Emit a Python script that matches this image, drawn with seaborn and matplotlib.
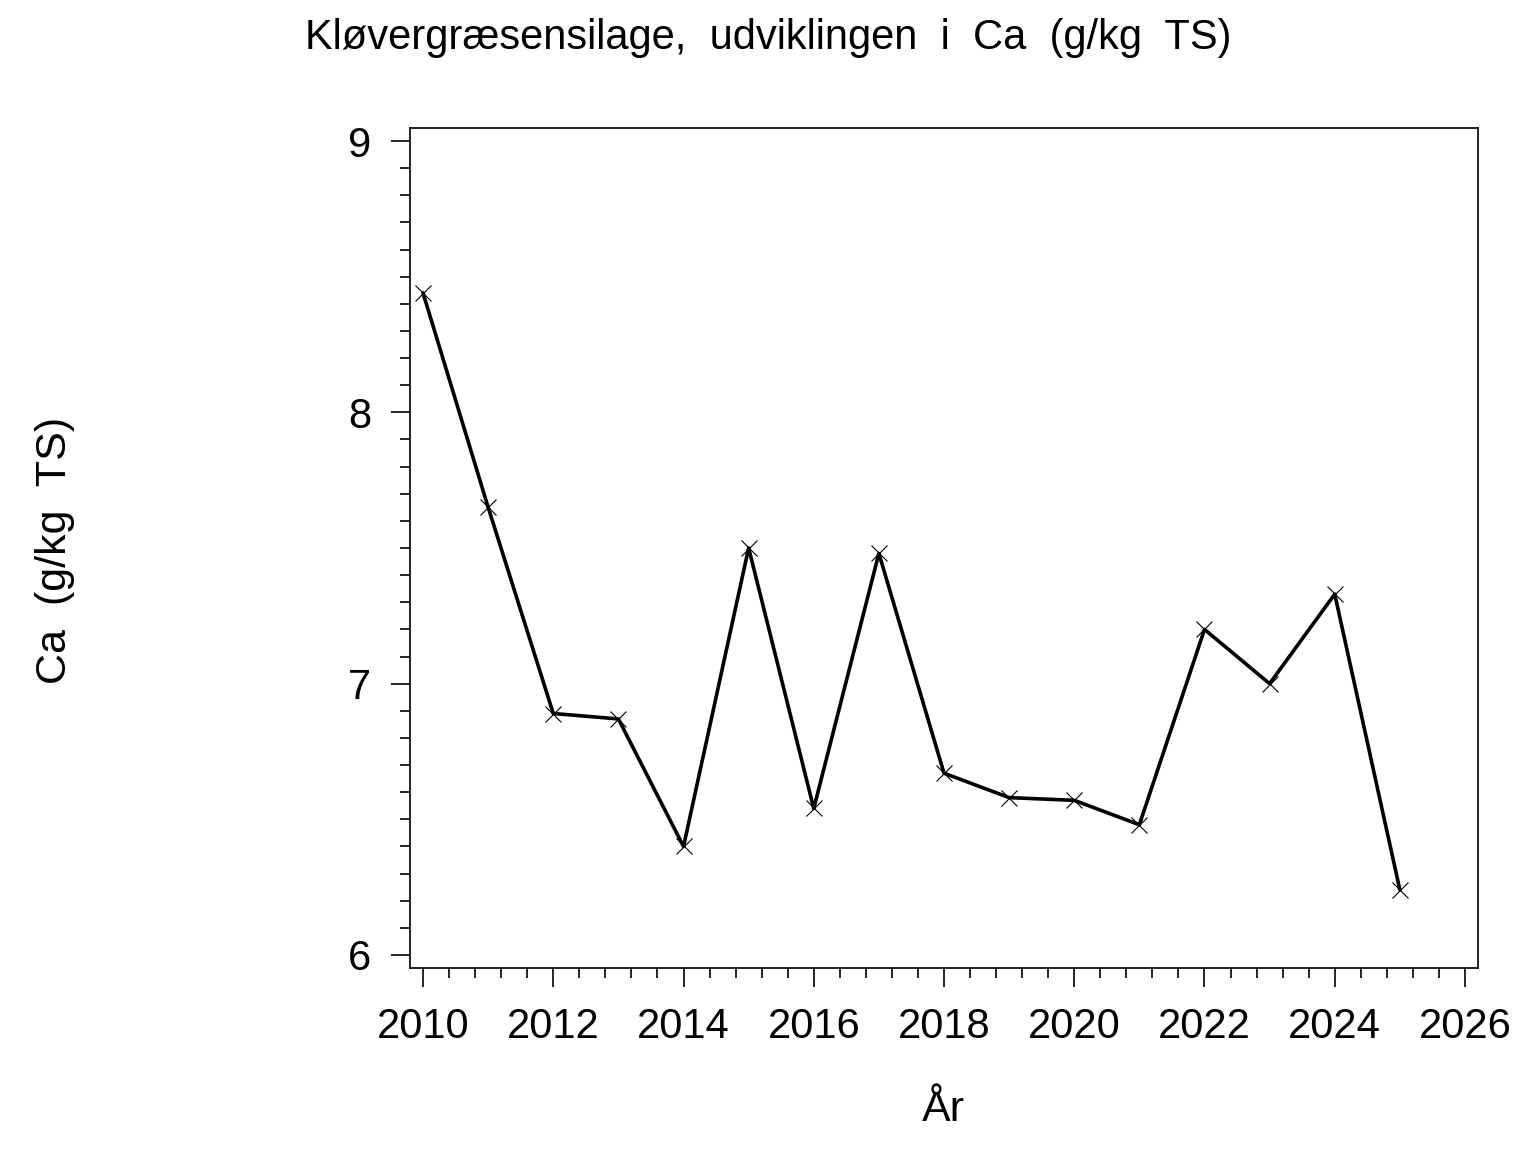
import matplotlib
matplotlib.use("Agg")
import matplotlib.pyplot as plt
from matplotlib.ticker import MultipleLocator
import seaborn as sns
import pandas as pd

# --- data ---
years = [2010, 2011, 2012, 2013, 2014, 2015, 2016, 2017,
         2018, 2019, 2020, 2021, 2022, 2023, 2024, 2025]
ca = [8.44, 7.65, 6.89, 6.87, 6.40, 7.50, 6.54, 7.48,
      6.67, 6.58, 6.57, 6.48, 7.20, 7.00, 7.33, 6.24]

title = "Kløvergræsensilage,  udviklingen  i  Ca  (g/kg  TS)"
xlab = "År"
ylab = "Ca  (g/kg  TS)"

df = pd.DataFrame({"year": years, "ca": ca})

sns.set_style("ticks")
plt.rcParams["font.family"] = ["Liberation Sans", "DejaVu Sans"]
plt.rcParams["text.color"] = "black"
plt.rcParams["axes.labelcolor"] = "black"

fig = plt.figure(figsize=(15.36, 11.52), dpi=100)
ax = fig.add_axes([410 / 1536, 1 - 968 / 1152, 1068 / 1536, 840 / 1152])

sns.lineplot(data=df, x="year", y="ca", ax=ax, color="black", linewidth=2.6,
             marker="x", markersize=12, markeredgewidth=0.8,
             markeredgecolor="black")

# --- axes ---
ax.set_xlim(2009.8, 2026.2)
ax.set_ylim(5.952, 9.048)
ax.xaxis.set_major_locator(MultipleLocator(2))
ax.xaxis.set_minor_locator(MultipleLocator(0.4))
ax.yaxis.set_major_locator(MultipleLocator(1))
ax.yaxis.set_minor_locator(MultipleLocator(0.1))
ax.tick_params(which="major", length=14, width=1.2, labelsize=30, pad=14,
               color="black", labelcolor="black")
ax.tick_params(which="minor", length=7, width=1.2, color="black")

for s in ax.spines.values():
    s.set_color("black")
    s.set_linewidth(1.2)

ax.set_xlabel(xlab, fontsize=31, va="center")
ax.set_ylabel(ylab, fontsize=31, va="center", ha="center")
ax.xaxis.set_label_coords((943 - 410) / 1068, (968 - 1110) / 840)
ax.yaxis.set_label_coords((55 - 410) / 1068, (968 - 550) / 840)

fig.text(0.5, 1 - 38 / 1152, title, ha="center", va="center", fontsize=30,
         color="black")

fig.savefig("out.png", dpi=100, facecolor="white")
